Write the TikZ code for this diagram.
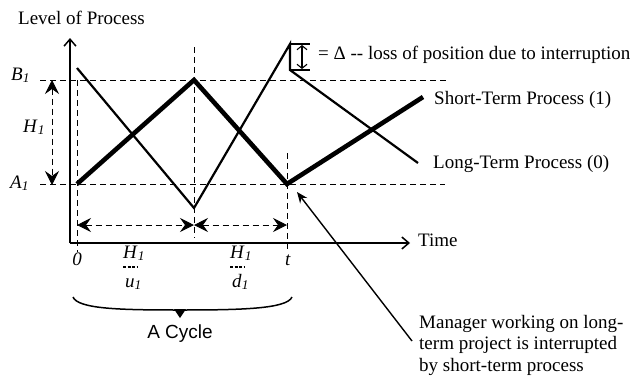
\documentclass[tikz,border=0pt]{standalone}
\usepackage{fontspec}
\setmainfont{Liberation Serif}
\newfontfamily\sansf{Liberation Sans}
\usetikzlibrary{arrows.meta}
\begin{document}
\begin{tikzpicture}[x=1pt,y=-1pt,
  every node/.style={font=\fontsize{19}{21.5}\selectfont, inner sep=0pt},
  dsh/.style={dash pattern=on 6pt off 4pt, line width=1pt},
  thinproc/.style={line width=2.2pt},
  thickproc/.style={line width=4.6pt},
  axisl/.style={line width=1.5pt,-{Straight Barb[length=7pt,width=12pt,line width=1.5pt]}},
  dimtip/.tip={Stealth[length=14pt,width=14pt,inset=5pt,line width=1pt]},
  dimarr/.style={dsh,dimtip-dimtip},
  fracbar/.style={dash pattern=on 3pt off 1.5pt, line width=1.3pt},
]
\useasboundingbox (0,0) rectangle (639,375);
% axes
\coordinate (O) at (70,243);
\coordinate (ytip) at (70,38);
\coordinate (xtip) at (410,243);
\draw[axisl] (O) -- (ytip);
\draw[axisl] (O) -- (xtip);
% dashed guides
\coordinate (bL) at (40,80); \coordinate (bR) at (448,80);
\coordinate (aL) at (40,184); \coordinate (aR) at (445,184);
\draw[dsh] (bL) -- (bR);
\draw[dsh] (aL) -- (aR);
\coordinate (v0t) at (77,80);  \coordinate (v0b) at (77,252);
\coordinate (v1t) at (194,47); \coordinate (v1b) at (194,238);
\coordinate (v2t) at (287,153); \coordinate (v2b) at (287,252);
\draw[dsh] (v0t) -- (v0b);
\draw[dsh] (v1t) -- (v1b);
\draw[dsh] (v2t) -- (v2b);
% dimension arrows
\coordinate (hT) at (52,80); \coordinate (hB) at (52,185);
\draw[dimarr] (hT) -- (hB);
\coordinate (d0) at (77,225); \coordinate (d1) at (194,225); \coordinate (d2) at (287,225);
\draw[dimarr] (d0) -- (d1);
\draw[dimarr] (d1) -- (d2);
% short-term process (thick)
\coordinate (s0) at (77,184); \coordinate (s1) at (194,80);
\coordinate (s2) at (287,184); \coordinate (s3) at (423,97);
\draw[thickproc] (s0) -- (s1) -- (s2) -- (s3);
% long-term process (thin)
\coordinate (l0) at (77,68); \coordinate (l1) at (194,208);
\coordinate (l2) at (290,44); \coordinate (l3) at (290,70);
\coordinate (l4) at (418,163);
\draw[thinproc] (l0) -- (l1) -- (l2) -- (l3) -- (l4);
% delta marker
\coordinate (dt1) at (310,44); \coordinate (db1) at (310,70);
\coordinate (dat) at (302,45); \coordinate (dab) at (302,69);
\draw[line width=1.5pt] (l2) -- (dt1);
\draw[line width=1.5pt] (l3) -- (db1);
\draw[line width=1.1pt,{Straight Barb[length=4pt,width=10pt]}-{Straight Barb[length=4pt,width=10pt]}] (dat) -- (dab);
% texts
\node[anchor=base west] (title) at (18,24) {Level of Process};
\node[anchor=base west] (delta) at (318,59) {= Δ -{}- loss of position due to interruption};
\node[anchor=base west] (stp) at (434,104) {Short-Term Process (1)};
\node[anchor=base west] (ltp) at (433,168) {Long-Term Process (0)};
\node[anchor=base west] (time) at (418,246) {Time};
\node[anchor=base west] (B1) at (11,80) {\textit{B}\textsubscript{\textit{1}}};
\node[anchor=base west] (A1) at (10,188) {\textit{A}\textsubscript{\textit{1}}};
\node[anchor=base west] (H1) at (23,132) {\textit{H}\textsubscript{\textit{1}}};
\node[anchor=base] (zero) at (77,265) {\textit{0}};
\node[anchor=base] (tt) at (288,265) {\textit{t}};
\node[anchor=base west] (Hu) at (123,258) {\textit{H}\textsubscript{\textit{1}}};
\node[anchor=base west] (uu) at (125,287) {\textit{u}\textsubscript{\textit{1}}};
\coordinate (fb1a) at (123,267); \coordinate (fb1b) at (137,267);
\draw[fracbar] (fb1a) -- (fb1b);
\node[anchor=base west] (Hd) at (230,258) {\textit{H}\textsubscript{\textit{1}}};
\node[anchor=base west] (dd) at (232,287) {\textit{d}\textsubscript{\textit{1}}};
\coordinate (fb2a) at (230,267); \coordinate (fb2b) at (244,267);
\draw[fracbar] (fb2a) -- (fb2b);
% brace
\coordinate (brL) at (73,297); \coordinate (brR) at (292,297);
\coordinate (brM) at (180,318);
\draw[line width=1.5pt] (brL) .. controls (78,309) and (120,310) .. (180,310)
  .. controls (240,310) and (287,309) .. (brR);
\fill (174,309) -- (brM) -- (186,309) -- cycle;
\node[font=\sansf\fontsize{19}{21.5}\selectfont] (cycle) at (180,334) {A Cycle};
% interruption note
\node[anchor=base west] (mgr) at (419,328) {\begin{tabular}[t]{@{}l@{}}Manager working on long-\\term project is interrupted\\by short-term process\end{tabular}};
\coordinate (itail) at (412,341); \coordinate (itip) at (297,192);
\draw[line width=1.4pt,-{Stealth[length=11pt,width=9pt]}] (itail) -- (itip);
\end{tikzpicture}
\end{document}
